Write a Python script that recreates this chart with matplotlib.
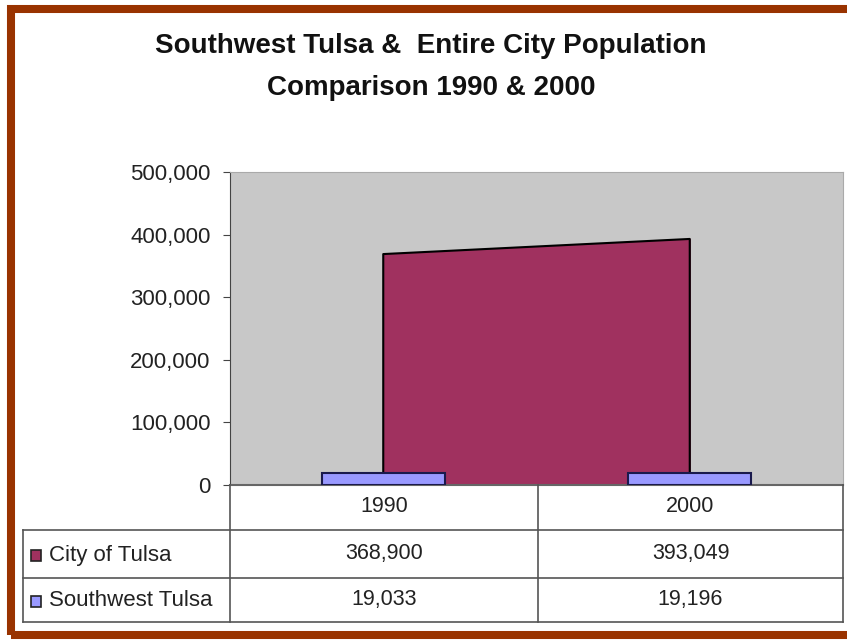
from matplotlib import pyplot as plt
from matplotlib.patches import Rectangle

# Data
years = ['1990', '2000']
city_of_tulsa = [368900, 393049]
southwest_tulsa = [19033, 19196]
series_names = ['City of Tulsa', 'Southwest Tulsa']
y_ticks = [0, 100000, 200000, 300000, 400000, 500000]

city_color = '#a0315f'
sw_color = '#9999ff'

plt.rcParams['font.family'] = ['Liberation Sans', 'DejaVu Sans']

fig = plt.figure(figsize=(8.47, 6.4), dpi=100)

# Brown frame round the whole picture (runs off the right edge)
fig.patches.append(Rectangle((11 / 847, 5 / 640), 900 / 847, 626 / 640,
                             transform=fig.transFigure, fill=False,
                             edgecolor='#993300', linewidth=5.8))

fig.text(0.509, 0.928, 'Southwest Tulsa &  Entire City Population',
         ha='center', va='center', fontsize=20, fontweight='bold',
         color='#111111')
fig.text(0.509, 0.862, 'Comparison 1990 & 2000',
         ha='center', va='center', fontsize=20, fontweight='bold',
         color='#111111')

# Plot area
ax = fig.add_axes([230 / 847, 155 / 640, 613 / 847, 313 / 640])
ax.set_facecolor('#c8c8c8')
x = list(range(len(years)))
ax.fill_between(x, city_of_tulsa, 0, color=city_color, zorder=2)
ax.plot([x[0], x[0]] + x[1:] + [x[-1], x[-1]],
        [0, city_of_tulsa[0]] + city_of_tulsa[1:] + [city_of_tulsa[-1], 0],
        color='black', linewidth=1.5, zorder=3)
ax.bar(x, southwest_tulsa, width=0.40, color=sw_color,
       edgecolor='#1a1a4d', linewidth=1.5, zorder=4)

ax.set_xlim(-0.5, 1.5)
ax.set_ylim(0, 500000)
ax.set_yticks(y_ticks)
ax.set_yticklabels([f'{v:,}' for v in y_ticks], fontsize=16, color='#222222')
ax.tick_params(axis='y', direction='out', length=5, pad=9, color='#444444')
ax.set_xticks([])
for side in ['top', 'right']:
    ax.spines[side].set_color('#aaaaaa')
ax.spines['left'].set_color('#444444')
ax.spines['bottom'].set_color('#666666')
ax.spines['bottom'].set_linewidth(1.5)

# Data table under the plot
tab = fig.add_axes([0, 0, 1, 1], facecolor='none')
tab.set_xlim(0, 847)
tab.set_ylim(640, 0)
tab.axis('off')
col_edges = [230, 538, 843]
row_edges = [485, 530, 578, 622]
line_kw = dict(color='#555555', linewidth=1.2)
tab.plot([23, 843], [row_edges[1], row_edges[1]], **line_kw)
tab.plot([23, 843], [row_edges[2], row_edges[2]], **line_kw)
tab.plot([23, 843], [row_edges[3], row_edges[3]], **line_kw)
tab.plot([23, 23], [row_edges[1], row_edges[3]], **line_kw)
tab.plot([230, 230], [row_edges[0], row_edges[3]], **line_kw)
tab.plot([538, 538], [row_edges[0], row_edges[3]], **line_kw)
tab.plot([843, 843], [row_edges[0], row_edges[3]], **line_kw)

for i, yr in enumerate(years):
    cx = (col_edges[i] + col_edges[i + 1]) / 2
    tab.text(cx, 506, yr, ha='center', va='center', fontsize=15.5,
             color='#222222')
    tab.text(cx, 554, f'{city_of_tulsa[i]:,}', ha='center', va='center',
             fontsize=15.5, color='#222222')
    tab.text(cx, 600, f'{southwest_tulsa[i]:,}', ha='center', va='center',
             fontsize=15.5, color='#222222')

for j, (name, c) in enumerate(zip(series_names, [city_color, sw_color])):
    cy = 555 if j == 0 else 601
    tab.add_patch(Rectangle((31, cy - 5), 10, 11, facecolor=c,
                            edgecolor='#222222', linewidth=1.2))
    tab.text(49, cy, name, ha='left', va='center', fontsize=16,
             color='#222222')

fig.savefig('out.png', dpi=100)
